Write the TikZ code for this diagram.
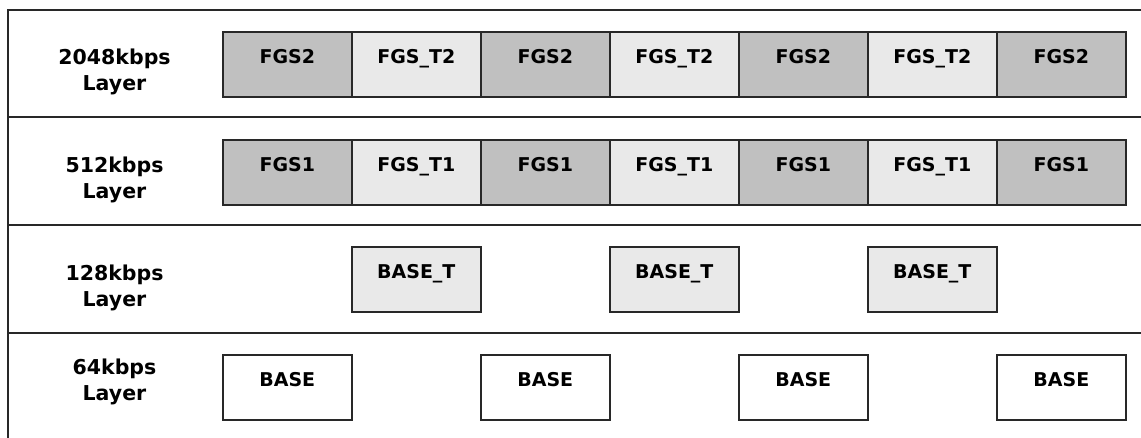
\documentclass[tikz,border=0pt]{standalone}
\usepackage{fontspec}
\setmainfont{DejaVu Sans}
\definecolor{darkcell}{RGB}{192,192,192}
\definecolor{lightcell}{RGB}{233,233,233}
\definecolor{linecol}{RGB}{40,40,40}
\tikzset{
  cell/.style={draw=linecol, line width=1.6pt, anchor=north west, minimum width=129pt,
    inner xsep=0pt, inner ysep=0pt, text height=32pt, text depth=33pt,
    font=\fontsize{19}{22}\selectfont\bfseries},
  dcell/.style={cell, fill=darkcell},
  lcell/.style={cell, fill=lightcell},
  wcell/.style={cell, fill=white},
  rowlabel/.style={anchor=base, align=center, inner sep=0pt,
    font=\fontsize{20.5}{26}\selectfont\bfseries},
  frameline/.style={draw=linecol, line width=1.6pt}
}
\begin{document}
\begin{tikzpicture}[x=1pt,y=-1pt]
\useasboundingbox (0,0) rectangle (1141,438);
\fill[white] (0,0) rectangle (1141,438);
% frame and separators
\draw[frameline] (1150,10) -- (8,10) -- (8,450);
\draw[frameline] (8,117) -- (1150,117);
\draw[frameline] (8,225) -- (1150,225);
\draw[frameline] (8,333) -- (1150,333);
% labels (base anchor = baseline of the last line)
\node[rowlabel] (l1) at (114.5,91) {2048kbps\\Layer};
\node[rowlabel] (l2) at (114.5,199) {512kbps\\Layer};
\node[rowlabel] (l3) at (114.5,307) {128kbps\\Layer};
\node[rowlabel] (l4) at (114.5,400) {64kbps\\Layer};
% row 1
\node[dcell] (a1) at (222,31) {FGS2};
\node[lcell] (a2) at (351,31) {FGS\_T2};
\node[dcell] (a3) at (480,31) {FGS2};
\node[lcell] (a4) at (609,31) {FGS\_T2};
\node[dcell] (a5) at (738,31) {FGS2};
\node[lcell] (a6) at (867,31) {FGS\_T2};
\node[dcell] (a7) at (996,31) {FGS2};
% row 2
\node[dcell] (b1) at (222,139) {FGS1};
\node[lcell] (b2) at (351,139) {FGS\_T1};
\node[dcell] (b3) at (480,139) {FGS1};
\node[lcell] (b4) at (609,139) {FGS\_T1};
\node[dcell] (b5) at (738,139) {FGS1};
\node[lcell] (b6) at (867,139) {FGS\_T1};
\node[dcell] (b7) at (996,139) {FGS1};
% row 3
\node[lcell] (c1) at (351,246) {BASE\_T};
\node[lcell] (c2) at (609,246) {BASE\_T};
\node[lcell] (c3) at (867,246) {BASE\_T};
% row 4
\node[wcell] (d1) at (222,354) {BASE};
\node[wcell] (d2) at (480,354) {BASE};
\node[wcell] (d3) at (738,354) {BASE};
\node[wcell] (d4) at (996,354) {BASE};
\end{tikzpicture}
\end{document}
